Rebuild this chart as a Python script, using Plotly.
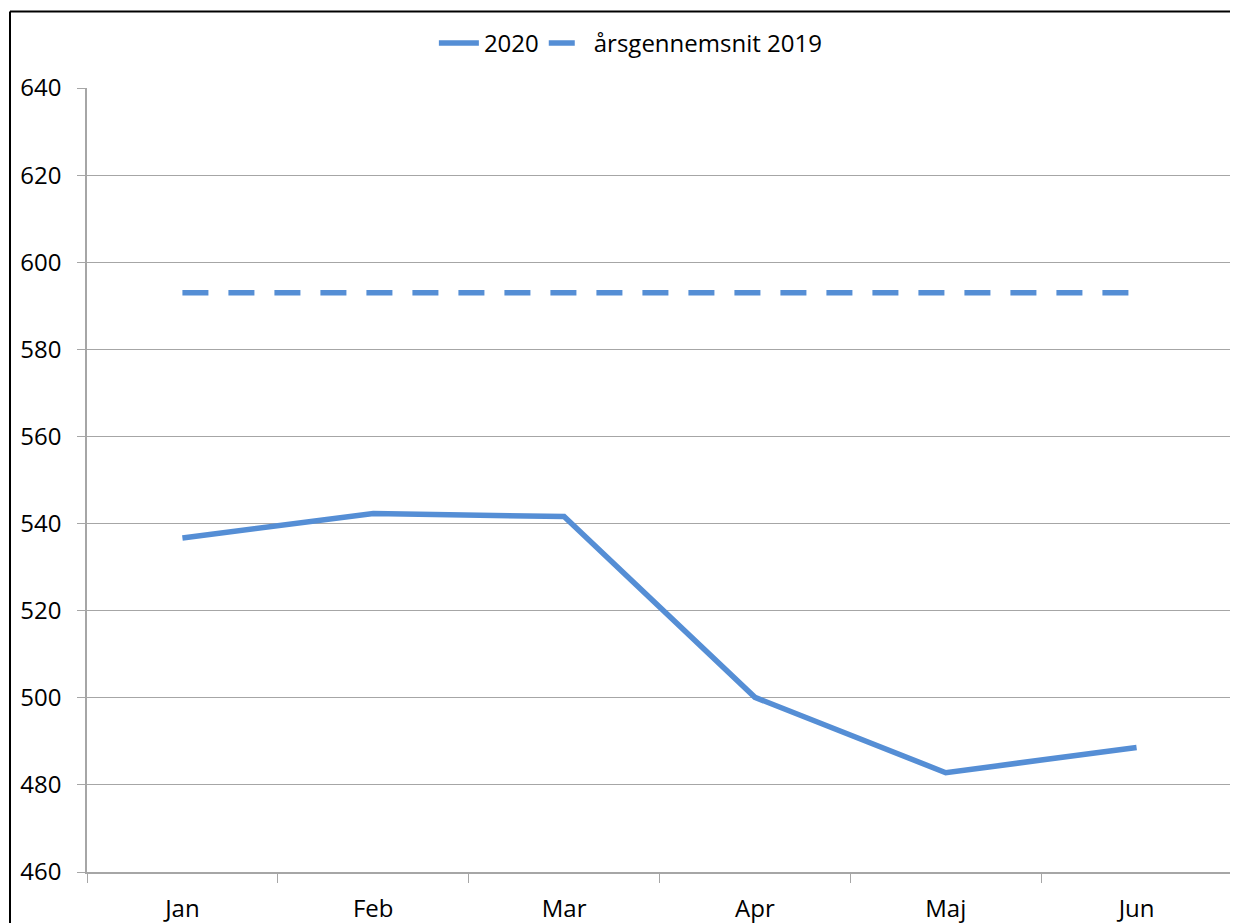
import plotly.graph_objects as go

months = ["Jan", "Feb", "Mar", "Apr", "Maj", "Jun"]
values_2020 = [536.7, 542.3, 541.6, 500.1, 482.8, 488.6]
avg_2019 = [593, 593, 593, 593, 593, 593]
y_ticks = [460, 480, 500, 520, 540, 560, 580, 600, 620, 640]

blue = "#558ED5"
grid = "#A6A6A6"
font_family = "Open Sans, Lato, DejaVu Sans, sans-serif"

W, H = 1230, 915

fig = go.Figure()
fig.add_trace(go.Scatter(x=months, y=values_2020, mode="lines", name="2020",
                         line=dict(color=blue, width=5.5)))
fig.add_trace(go.Scatter(x=months, y=avg_2019, mode="lines", name="årsgennemsnit 2019",
                         line=dict(color=blue, width=5.5, dash="26px,20px")))

fig.update_layout(
    width=W, height=H,
    margin=dict(l=79, r=6, t=80, b=51, autoexpand=False),
    paper_bgcolor="white", plot_bgcolor="white",
    font=dict(family=font_family, size=24, color="black"),
    showlegend=True,
    legend=dict(orientation="h", x=0.475, xanchor="center", y=1.057, yanchor="middle",
                font=dict(size=24), itemwidth=40, traceorder="normal"),
    xaxis=dict(type="category", range=[-0.5, 5.5], showgrid=False, automargin=False,
               showline=True, linecolor=grid, linewidth=1.5,
               ticks="outside", tickson="boundaries", ticklen=9, tickcolor=grid,
               ticklabelstandoff=14, tickfont=dict(size=24)),
    yaxis=dict(range=[460, 640], tickvals=y_ticks, showgrid=True, gridcolor=grid,
               gridwidth=1, showline=True, linecolor=grid, linewidth=1.5, automargin=False,
               ticks="outside", ticklen=8, tickcolor=grid, zeroline=False,
               ticklabelstandoff=11, tickfont=dict(size=24)),
)

plot_w, plot_h = 1145, 784
left_x = (2 - 79) / plot_w
top_y = 1 + (80 - 3.5) / plot_h
fig.add_shape(type="line", xref="paper", yref="paper",
              x0=left_x, x1=(W - 79) / plot_w, y0=top_y, y1=top_y,
              line=dict(color="black", width=2), layer="above")
fig.add_shape(type="line", xref="paper", yref="paper",
              x0=left_x, x1=left_x, y0=-0.2, y1=top_y,
              line=dict(color="black", width=2), layer="above")

fig.write_html("out.html")
